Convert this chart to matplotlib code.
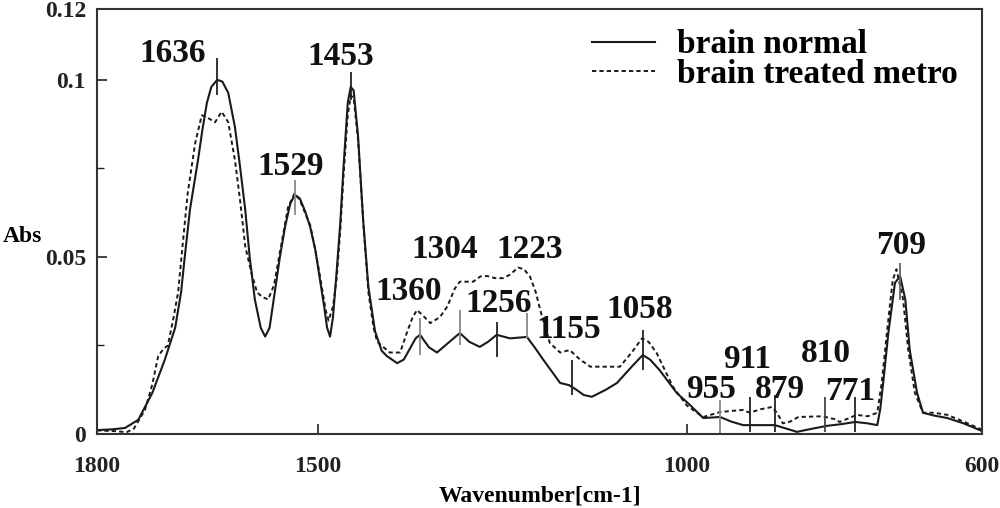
#!/usr/bin/env python3
"""
FTIR spectrum of brain tissue: normal vs treated with metro
"""

import matplotlib
matplotlib.use("Agg")
import matplotlib.pyplot as plt
from matplotlib.ticker import MultipleLocator

# brain normal (solid line)
normal_wn = [1800, 1780, 1762, 1744, 1725, 1708, 1694, 1686, 1681, 1674,
             1663, 1657, 1651, 1645, 1637, 1630, 1622, 1613, 1606, 1599,
             1593, 1586, 1578, 1572, 1566, 1559, 1552, 1545, 1538, 1532,
             1525, 1518, 1511, 1504, 1498, 1492, 1488, 1484, 1480, 1475,
             1470, 1466, 1460, 1456, 1452, 1446, 1439, 1432, 1423, 1414,
             1407, 1393, 1384, 1376, 1368, 1362, 1350, 1339, 1325, 1308,
             1295, 1281, 1270, 1258, 1240, 1217, 1205, 1195, 1172, 1160,
             1150, 1140, 1129, 1110, 1095, 1075, 1060, 1050, 1037, 1014,
             995, 978, 955, 940, 924, 900, 881, 865, 851, 830,
             810, 790, 772, 755, 742, 738, 734, 727, 718, 711,
             704, 698, 688, 680, 665, 647, 625, 603, 600]
normal_abs = [0.0011, 0.0013, 0.0017, 0.0040, 0.0116, 0.0210, 0.0300, 0.0400, 0.0500, 0.0633,
              0.0774, 0.0860, 0.0935, 0.0980, 0.1000, 0.0995, 0.0963, 0.0867, 0.0754, 0.0633,
              0.0500, 0.0380, 0.0300, 0.0275, 0.0300, 0.0400, 0.0500, 0.0585, 0.0650, 0.0675,
              0.0665, 0.0630, 0.0585, 0.0520, 0.0440, 0.0360, 0.0300, 0.0275, 0.0330, 0.0460,
              0.0600, 0.0746, 0.0935, 0.0980, 0.0970, 0.0840, 0.0600, 0.0415, 0.0290, 0.0235,
              0.0220, 0.0200, 0.0210, 0.0240, 0.0270, 0.0280, 0.0245, 0.0230, 0.0255, 0.0285,
              0.0260, 0.0246, 0.0260, 0.0280, 0.0270, 0.0274, 0.0240, 0.0210, 0.0144, 0.0138,
              0.0125, 0.0110, 0.0105, 0.0125, 0.0144, 0.0190, 0.0223, 0.0210, 0.0180, 0.0116,
              0.0080, 0.0045, 0.0048, 0.0035, 0.0025, 0.0025, 0.0025, 0.0015, 0.0006, 0.0015,
              0.0023, 0.0028, 0.0034, 0.0030, 0.0025, 0.0070, 0.0144, 0.0285, 0.0427, 0.0445,
              0.0380, 0.0237, 0.0116, 0.0060, 0.0052, 0.0045, 0.0030, 0.0011, 0.0008]

# brain treated metro (dashed line)
treated_wn = [1800, 1775, 1760, 1750, 1735, 1725, 1717, 1710, 1704, 1697,
              1690, 1685, 1677, 1667, 1658, 1650, 1640, 1631, 1622, 1613,
              1606, 1599, 1590, 1583, 1576, 1568, 1560, 1554, 1541, 1532,
              1525, 1518, 1511, 1504, 1498, 1490, 1486, 1480, 1475, 1470,
              1466, 1460, 1456, 1452, 1446, 1439, 1432, 1425, 1420, 1403,
              1389, 1380, 1372, 1366, 1356, 1348, 1335, 1325, 1315, 1308,
              1290, 1280, 1271, 1260, 1249, 1240, 1229, 1221, 1213, 1205,
              1199, 1186, 1172, 1159, 1145, 1131, 1110, 1091, 1075, 1061,
              1052, 1041, 1030, 1019, 1000, 978, 955, 940, 924, 915,
              900, 885, 878, 870, 860, 849, 816, 800, 793, 780,
              770, 755, 742, 736, 729, 721, 716, 707, 700, 691,
              680, 665, 647, 625, 603, 600]
treated_abs = [0.0010, 0.0008, 0.0005, 0.0015, 0.0068, 0.0140, 0.0220, 0.0240, 0.0250, 0.0320,
               0.0400, 0.0510, 0.0680, 0.0820, 0.0900, 0.0893, 0.0880, 0.0910, 0.0880, 0.0774,
               0.0660, 0.0530, 0.0450, 0.0400, 0.0387, 0.0380, 0.0420, 0.0490, 0.0640, 0.0680,
               0.0660, 0.0625, 0.0590, 0.0520, 0.0450, 0.0350, 0.0320, 0.0360, 0.0440, 0.0580,
               0.0720, 0.0900, 0.0955, 0.0950, 0.0830, 0.0600, 0.0400, 0.0300, 0.0260, 0.0230,
               0.0230, 0.0285, 0.0330, 0.0350, 0.0330, 0.0313, 0.0330, 0.0360, 0.0410, 0.0430,
               0.0430, 0.0445, 0.0446, 0.0440, 0.0440, 0.0450, 0.0470, 0.0465, 0.0445, 0.0400,
               0.0350, 0.0257, 0.0230, 0.0237, 0.0210, 0.0190, 0.0190, 0.0190, 0.0230, 0.0270,
               0.0260, 0.0228, 0.0180, 0.0133, 0.0080, 0.0048, 0.0062, 0.0065, 0.0068, 0.0060,
               0.0070, 0.0076, 0.0060, 0.0030, 0.0035, 0.0048, 0.0050, 0.0042, 0.0034, 0.0045,
               0.0054, 0.0050, 0.0060, 0.0144, 0.0285, 0.0435, 0.0465, 0.0380, 0.0237, 0.0116,
               0.0060, 0.0060, 0.0054, 0.0035, 0.0015, 0.0010]

# peak markers: wavenumber and vertical extent of the tick
peak_labels = ["1636", "1529", "1453", "1360", "1304", "1256", "1223", "1155",
               "1058", "955", "911", "879", "810", "771", "709"]
peak_wn = [1637, 1532, 1456, 1362, 1308, 1258, 1217, 1156,
           1060, 955, 915, 881, 813, 772, 711]
peak_lo = [0.0958, 0.0619, 0.0944, 0.0223, 0.0251, 0.0218, 0.0271, 0.0110,
           0.0181, 0.0000, 0.0006, 0.0006, 0.0006, 0.0006, 0.0379]
peak_hi = [0.1062, 0.0718, 0.1023, 0.0328, 0.0350, 0.0316, 0.0342, 0.0209,
           0.0294, 0.0096, 0.0105, 0.0110, 0.0105, 0.0105, 0.0483]
peak_colors = ["#222222", "#888888", "#222222", "#888888", "#888888", "#222222", "#888888", "#222222",
               "#222222", "#888888", "#222222", "#222222", "#444444", "#222222", "#666666"]

# label placement (centre x in wavenumber, baseline y in Abs)
label_x = [1698, 1537, 1470, 1378, 1329, 1256, 1214, 1161,
           1064, 967, 919, 874, 812, 779, 710]
label_y = [0.1051, 0.0732, 0.1042, 0.0379, 0.0497, 0.0345, 0.0497, 0.0271,
           0.0328, 0.0102, 0.0186, 0.0102, 0.0203, 0.0096, 0.0508]

SERIF = ["Liberation Serif", "DejaVu Serif"]


def draw_spectrum():
    fig = plt.figure(figsize=(10, 5.08), dpi=100)
    ax = fig.add_axes([0.097, 0.1457, 0.885, 0.8366])

    ax.plot(normal_wn, normal_abs, color="#1a1a1a", linewidth=1.5,
            label="brain normal")
    ax.plot(treated_wn, treated_abs, color="#1a1a1a", linewidth=1.4,
            linestyle=(0, (2.2, 1.6)), label="brain treated metro")

    # peak ticks and labels
    for i, lab in enumerate(peak_labels):
        ax.vlines(peak_wn[i], peak_lo[i], peak_hi[i], color=peak_colors[i], linewidth=1.3)
        ax.text(label_x[i], label_y[i], lab, ha="center", va="baseline",
                fontsize=24, fontweight="bold", family=SERIF, color="#111111")

    ax.set_xlim(1800, 600)
    ax.set_ylim(0, 0.12)
    ax.set_xticks([1800, 1500, 1000, 600])
    ax.set_xticklabels(["1800", "1500", "1000", "600"])
    ax.set_yticks([0, 0.05, 0.1, 0.12])
    ax.set_yticklabels(["0", "0.05", "0.1", "0.12"])
    ax.yaxis.set_minor_locator(MultipleLocator(0.025))

    ax.tick_params(axis="both", which="both", direction="in", colors="#222222",
                   labelsize=17)
    ax.tick_params(axis="x", pad=16)
    ax.tick_params(axis="y", pad=8)
    ax.tick_params(which="major", length=7, width=1.2)
    ax.tick_params(which="minor", length=5, width=1.0)
    for lbl in ax.get_xticklabels() + ax.get_yticklabels():
        lbl.set_fontfamily(SERIF)
        lbl.set_fontweight("bold")

    for sp in ax.spines.values():
        sp.set_color("#333333")
        sp.set_linewidth(1.5)

    ax.set_xlabel("Wavenumber[cm-1]", fontsize=17, fontweight="bold",
                  family=SERIF, labelpad=6)
    fig.text(0.022, 0.535, "Abs", fontsize=17, fontweight="bold",
             family=SERIF, ha="center", va="center")

    ax.legend(loc="upper left", bbox_to_anchor=(0.559, 0.952), frameon=False,
              prop={"family": SERIF, "weight": "bold", "size": 24},
              handlelength=1.9, handletextpad=0.65, labelspacing=-0.05,
              borderpad=0.0, borderaxespad=0.0)

    fig.savefig("out.png", dpi=100)


def main():
    draw_spectrum()


if __name__ == "__main__":
    main()
